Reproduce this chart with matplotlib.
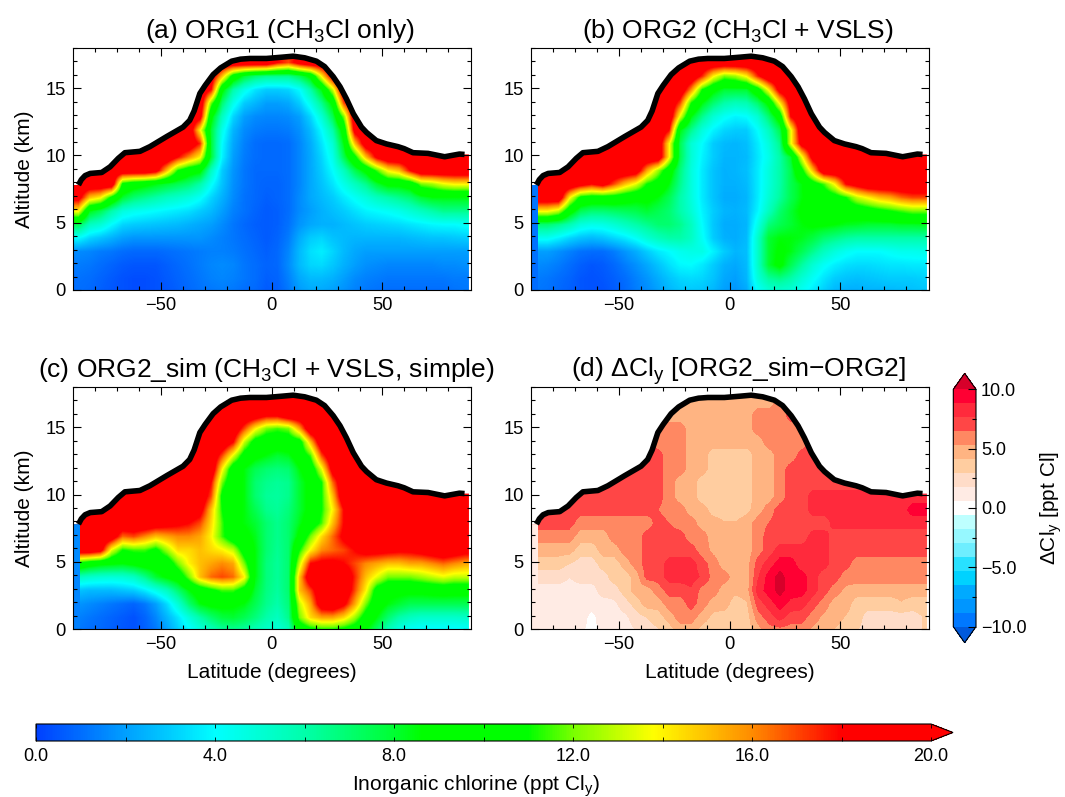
"""
plot.py  -  zonal mean inorganic chlorine cross sections, four panels + two colour bars.
Saves the figure as out.png
"""

import numpy as np
import matplotlib
matplotlib.use("Agg")
import matplotlib.pyplot as plt
from matplotlib.cm import ScalarMappable
from matplotlib.colors import BoundaryNorm, LinearSegmentedColormap, ListedColormap, Normalize
from matplotlib.patches import Polygon
from matplotlib.ticker import FuncFormatter

plt.rcParams["font.family"] = ["Liberation Sans", "DejaVu Sans"]
plt.rcParams["mathtext.fontset"] = "custom"
plt.rcParams["mathtext.rm"] = "Liberation Sans"
plt.rcParams["mathtext.default"] = "regular"

# ── Data ──────────────────────────────────────────────────────────────────────

# tropopause line, same in all panels
TROP_LAT = [-87.3, -86, -84.3, -82, -76.8, -73, -69.3, -66.3, -59.5, -55, -47.4, -40, -37, -35, -34, -32.4, -30,
            -26.4, -23, -18, -14, -9.8, -2.3, 5, 9.8, 15, 20.3, 24, 27.9, 31, 33.9, 37, 40.7, 43, 47.4, 52, 57.2,
            60, 64, 70.8, 78.3, 85, 87.3]
TROP_ALT = [7.8, 8.2, 8.5, 8.66, 8.73, 9.15, 9.78, 10.2, 10.3, 10.65, 11.4, 12.1, 12.6, 13.3, 13.8, 14.6, 15.2,
            16.0, 16.5, 17.0, 17.15, 17.2, 17.2, 17.3, 17.37, 17.25, 17.0, 16.6, 15.85, 15.1, 14.2, 13.1, 12.1,
            11.7, 11.1, 10.85, 10.65, 10.5, 10.2, 10.15, 9.9, 10.1, 10.07]

# fields: rows from 16.85 km down to -0.15 km (1 km apart), columns from -87.5 to 87.5 deg (5 deg apart)
ORG1 = [
    [20, 20, 20, 20, 20, 20, 20, 20, 20, 20, 20, 20, 20, 20, 20, 20, 20, 20, 18, 17, 19, 20, 20, 20, 20, 20, 20, 20, 20, 20, 20, 20, 20, 20, 20, 20],
    [20, 20, 20, 20, 20, 20, 20, 20, 20, 20, 20, 20, 19.5, 15, 10, 8, 7, 6.5, 6.5, 6.5, 7.5, 9, 14, 19, 20, 20, 20, 20, 20, 20, 20, 20, 20, 20, 20, 20],
    [20, 20, 20, 20, 20, 20, 20, 20, 20, 20, 20, 20, 18, 9, 6, 4.5, 3.5, 3, 3, 3.2, 4, 6, 8.5, 13, 20, 20, 20, 20, 20, 20, 20, 20, 20, 20, 20, 20],
    [20, 20, 20, 20, 20, 20, 20, 20, 20, 20, 20, 20, 12, 7, 4.5, 3, 2.5, 2, 2, 2.2, 3, 4.5, 6.5, 9, 17, 20, 20, 20, 20, 20, 20, 20, 20, 20, 20, 20],
    [20, 20, 20, 20, 20, 20, 20, 20, 20, 20, 20, 19, 9, 5.5, 3.2, 2, 1.6, 1.5, 1.5, 1.6, 2, 3.2, 5, 7.5, 12, 20, 20, 20, 20, 20, 20, 20, 20, 20, 20, 20],
    [20, 20, 20, 20, 20, 20, 20, 20, 20, 20, 20, 14, 8, 4.5, 2.5, 1.6, 1.3, 1.2, 1.2, 1.3, 1.7, 2.6, 4, 6, 9.5, 19, 20, 20, 20, 20, 20, 20, 20, 20, 20, 20],
    [20, 20, 20, 20, 20, 20, 20, 20, 20, 20, 20, 17.5, 8, 4, 2.2, 1.4, 1, 0.9, 0.9, 1, 1.5, 2.3, 3.5, 5, 8.5, 15, 19.5, 20, 20, 20, 20, 20, 20, 20, 20, 20],
    [20, 20, 20, 20, 20, 20, 20, 20, 20, 18, 16, 14, 8, 3.8, 2, 1.3, 1, 0.9, 0.9, 1, 1.5, 2.2, 3.2, 4.5, 7.5, 10.5, 15, 18.5, 20, 20, 20, 20, 20, 20, 20, 20],
    [20, 20, 20, 20, 20, 20, 20, 19, 15, 11, 9.5, 9, 5.5, 3, 1.8, 1.2, 0.9, 0.9, 0.9, 1, 1.5, 2.2, 3, 4, 5.5, 7.5, 9, 11.5, 14, 15, 18, 20, 20, 20, 20, 20],
    [20, 20, 20, 20, 10.5, 9.5, 9, 8.5, 8, 7.5, 7, 6, 4.2, 2.8, 1.7, 1.2, 0.9, 0.8, 0.8, 1, 1.5, 2.2, 2.8, 3.5, 4.5, 5.5, 6.5, 8, 9, 9, 9.5, 12, 12.5, 13.5, 14, 14],
    [19, 15, 14, 10.5, 8, 7, 6.5, 6, 5.5, 5.2, 4.8, 4.2, 3.2, 2.4, 1.6, 1.1, 0.9, 0.7, 0.8, 1, 1.6, 2.2, 2.6, 3, 3.6, 4.2, 4.8, 5.5, 6, 6.5, 7, 8, 8.5, 8.5, 8.5, 8.5],
    [14, 8.5, 7.5, 6, 4.8, 4.4, 4.2, 4, 3.8, 3.6, 3.4, 3, 2.6, 2, 1.4, 1.1, 0.8, 0.6, 0.7, 1, 1.6, 2, 2.4, 2.7, 3, 3.4, 3.8, 4, 4.2, 4.5, 5, 5.5, 6, 6.5, 6.5, 6.5],
    [7.5, 5.5, 5, 4, 3.2, 3, 2.9, 2.8, 2.7, 2.6, 2.4, 2.2, 2, 1.6, 1.2, 0.9, 0.7, 0.6, 0.7, 1.1, 1.8, 2.2, 2.4, 2.4, 2.6, 2.8, 3, 3.1, 3.2, 3.3, 3.5, 3.7, 3.9, 4, 4, 4.2],
    [4, 3.2, 2.8, 2.4, 2, 1.8, 1.8, 1.8, 1.8, 1.8, 1.8, 1.8, 1.6, 1.4, 1.2, 1, 0.8, 0.6, 0.8, 1.3, 2.3, 3, 3.2, 2.8, 2.6, 2.5, 2.5, 2.5, 2.5, 2.5, 2.6, 2.7, 2.8, 2.8, 2.9, 3],
    [1.6, 1.5, 1.3, 1.2, 1, 0.9, 0.9, 0.9, 1, 1.1, 1.2, 1.3, 1.4, 1.4, 1.3, 1.1, 0.9, 0.7, 0.9, 1.5, 2.6, 3.4, 3.7, 3.2, 2.6, 2.2, 2, 2, 2, 2, 2, 2, 2, 2, 2, 2],
    [1.3, 1.2, 1, 0.8, 0.6, 0.5, 0.5, 0.5, 0.7, 0.9, 1.1, 1.3, 1.5, 1.6, 1.5, 1.2, 1, 0.8, 0.9, 1.6, 2.6, 3.2, 3.3, 2.9, 2.4, 2, 1.7, 1.6, 1.5, 1.5, 1.5, 1.5, 1.5, 1.6, 1.6, 1.7],
    [1.1, 1, 0.8, 0.6, 0.4, 0.3, 0.3, 0.4, 0.6, 0.8, 1, 1.2, 1.4, 1.5, 1.4, 1.2, 1, 0.7, 0.8, 1.4, 2.2, 2.6, 2.6, 2.4, 2, 1.6, 1.4, 1.3, 1.2, 1.2, 1.2, 1.2, 1.2, 1.2, 1.3, 1.3],
    [1, 0.9, 0.7, 0.5, 0.4, 0.3, 0.3, 0.4, 0.5, 0.7, 0.9, 1.1, 1.2, 1.3, 1.2, 1, 0.9, 0.6, 0.7, 1.2, 1.9, 2.2, 2.2, 2, 1.7, 1.4, 1.2, 1.1, 1, 1, 1, 1, 1, 1, 1.1, 1.2],
]

ORG2 = [
    [20, 20, 20, 20, 20, 20, 20, 20, 20, 20, 20, 20, 20, 20, 20, 20, 20, 20, 20, 20, 20, 20, 20, 20, 20, 20, 20, 20, 20, 20, 20, 20, 20, 20, 20, 20],
    [20, 20, 20, 20, 20, 20, 20, 20, 20, 20, 20, 20, 20, 20, 20, 17.5, 14, 12, 12.5, 14, 17.5, 20, 20, 20, 20, 20, 20, 20, 20, 20, 20, 20, 20, 20, 20, 20],
    [20, 20, 20, 20, 20, 20, 20, 20, 20, 20, 20, 20, 20, 20, 16, 11, 9, 8, 8, 8, 10, 14, 19, 20, 20, 20, 20, 20, 20, 20, 20, 20, 20, 20, 20, 20],
    [20, 20, 20, 20, 20, 20, 20, 20, 20, 20, 20, 20, 20, 17, 11, 8.5, 7, 6, 5.6, 5.8, 7, 9, 14, 19, 20, 20, 20, 20, 20, 20, 20, 20, 20, 20, 20, 20],
    [20, 20, 20, 20, 20, 20, 20, 20, 20, 20, 20, 20, 20, 13.5, 8.5, 6.5, 5, 4.2, 3.8, 4, 5, 7, 9.5, 18, 20, 20, 20, 20, 20, 20, 20, 20, 20, 20, 20, 20],
    [20, 20, 20, 20, 20, 20, 20, 20, 20, 20, 20, 20, 18, 8.5, 6.5, 4.8, 3.8, 3.2, 3, 3, 4, 5.5, 7.5, 13.5, 20, 20, 20, 20, 20, 20, 20, 20, 20, 20, 20, 20],
    [20, 20, 20, 20, 20, 20, 20, 20, 20, 20, 20, 20, 14, 7.5, 5, 4, 3, 2.6, 2.5, 2.7, 3.6, 4.8, 6.5, 13.5, 19, 20, 20, 20, 20, 20, 20, 20, 20, 20, 20, 20],
    [20, 20, 20, 20, 20, 20, 20, 20, 20, 20, 20, 20, 14, 7.5, 5, 3.8, 3, 2.5, 2.5, 2.6, 3.5, 4.5, 6, 8, 13.5, 19, 20, 20, 20, 20, 20, 20, 20, 20, 20, 20],
    [20, 20, 20, 20, 20, 20, 20, 20, 20, 19.5, 15.5, 12.5, 9.5, 6.8, 4.8, 3.6, 2.8, 2.4, 2.5, 2.7, 3.6, 4.8, 6, 7.5, 10.5, 15, 20, 20, 20, 20, 20, 20, 20, 20, 20, 20],
    [20, 20, 20, 20, 19, 18, 19, 17, 15, 13.5, 11, 10, 8.5, 6.5, 4.8, 3.6, 2.8, 2.4, 2.4, 2.6, 3.6, 4.8, 6, 7.5, 8.5, 10, 11.5, 14, 18, 19, 20, 20, 20, 20, 20, 20],
    [20, 20, 20, 14, 10.5, 10, 10, 10, 9.5, 9, 9, 8.5, 7.5, 6, 4.8, 3.6, 2.8, 2.3, 2.3, 2.5, 3.6, 5, 6.2, 7.5, 8.5, 9, 9.5, 10, 11, 13, 14, 15, 15.5, 16.5, 17, 17],
    [14, 14, 13, 9.5, 7.5, 7, 7, 7.2, 7.4, 7.6, 8, 7.5, 7, 6, 5, 3.8, 3, 2.5, 2.4, 2.6, 3.8, 5.5, 7, 8, 8.8, 9.5, 9.5, 9.5, 9.5, 9.5, 10, 10.5, 11, 11.5, 12, 12],
    [7, 7, 6.5, 5.8, 4.8, 4.5, 4.6, 5, 5.5, 6, 6.5, 7, 7, 6.5, 5.5, 4, 2.9, 2.3, 2.3, 2.5, 4.5, 6.8, 7.5, 8, 8.5, 8.8, 8.8, 8.6, 8.3, 8.2, 8, 8, 8, 8.2, 8.2, 8.3],
    [4.3, 4.3, 3.8, 3.2, 2.8, 2.6, 2.8, 3.2, 3.6, 4.2, 5, 5.6, 6, 6, 5.4, 4.2, 3, 2.4, 2.3, 2.6, 5.2, 8, 8.5, 8.5, 8.3, 7.8, 7, 6.6, 6.2, 6, 6, 6, 6, 6, 6, 6],
    [2, 2, 1.7, 1.4, 1.1, 1, 1, 1.3, 1.8, 2.3, 3, 3.6, 4, 4.4, 4.6, 4.6, 3.8, 3, 2.5, 2.7, 5.2, 8, 8.8, 8.4, 7.5, 6.5, 5.5, 4.8, 4.3, 4, 4, 4, 4.2, 4.4, 4.4, 4.5],
    [1.6, 1.5, 1.3, 1, 0.7, 0.5, 0.6, 0.9, 1.3, 1.7, 2.2, 2.8, 3.4, 3.9, 4, 3.6, 3, 2.4, 2.2, 2.6, 5.2, 8, 9, 7.5, 6.2, 5, 4.2, 3.7, 3.4, 3.3, 3.3, 3.4, 3.5, 3.5, 3.6, 3.6],
    [1.3, 1.2, 1, 0.8, 0.5, 0.4, 0.5, 0.7, 1, 1.4, 1.8, 2.3, 2.8, 3.2, 3.3, 3.2, 2.8, 2.2, 2, 2.5, 4.8, 6.2, 6.6, 6, 5, 4.2, 3.5, 3, 2.8, 2.7, 2.8, 2.9, 3, 3, 3, 3.1],
    [1.2, 1.1, 0.9, 0.7, 0.5, 0.4, 0.4, 0.6, 0.9, 1.3, 1.6, 2, 2.5, 2.8, 2.9, 2.8, 2.5, 2, 1.8, 2.2, 4, 4.8, 5, 4.8, 4.2, 3.6, 3, 2.5, 2.3, 2.3, 2.4, 2.4, 2.5, 2.6, 2.7, 2.8],
]

ORG2_SIM = [
    [20, 20, 20, 20, 20, 20, 20, 20, 20, 20, 20, 20, 20, 20, 20, 20, 20, 20, 20, 20, 20, 20, 20, 20, 20, 20, 20, 20, 20, 20, 20, 20, 20, 20, 20, 20],
    [20, 20, 20, 20, 20, 20, 20, 20, 20, 20, 20, 20, 20, 20, 20, 20, 19.5, 18.5, 18.5, 20, 20, 20, 20, 20, 20, 20, 20, 20, 20, 20, 20, 20, 20, 20, 20, 20],
    [20, 20, 20, 20, 20, 20, 20, 20, 20, 20, 20, 20, 20, 20, 20, 17, 14, 12, 11.5, 12, 15.5, 20, 20, 20, 20, 20, 20, 20, 20, 20, 20, 20, 20, 20, 20, 20],
    [20, 20, 20, 20, 20, 20, 20, 20, 20, 20, 20, 20, 20, 20, 18, 13, 10, 9.5, 9.5, 9.5, 10, 15, 20, 20, 20, 20, 20, 20, 20, 20, 20, 20, 20, 20, 20, 20],
    [20, 20, 20, 20, 20, 20, 20, 20, 20, 20, 20, 20, 20, 17, 13.5, 10, 9, 8.5, 8, 8.3, 9.5, 11.5, 17, 20, 20, 20, 20, 20, 20, 20, 20, 20, 20, 20, 20, 20],
    [20, 20, 20, 20, 20, 20, 20, 20, 20, 20, 20, 20, 20, 14, 9.5, 8.5, 7.5, 7, 6.8, 7, 8.5, 9.5, 13.5, 19, 20, 20, 20, 20, 20, 20, 20, 20, 20, 20, 20, 20],
    [20, 20, 20, 20, 20, 20, 20, 20, 20, 20, 20, 20, 18, 12, 9, 8.5, 7, 6.5, 6.3, 6.5, 8, 9, 11, 16.5, 20, 20, 20, 20, 20, 20, 20, 20, 20, 20, 20, 20],
    [20, 20, 20, 20, 20, 20, 20, 20, 20, 20, 20, 20, 17, 10.5, 9, 8.5, 7, 6.3, 6.2, 6.5, 8, 9, 11, 15, 20, 20, 20, 20, 20, 20, 20, 20, 20, 20, 20, 20],
    [20, 20, 20, 20, 20, 20, 20, 20, 20, 20, 20, 19, 15, 11, 9, 8.5, 7.5, 6.5, 6.3, 6.8, 8, 9, 11, 14, 18, 20, 20, 20, 20, 20, 20, 20, 20, 20, 20, 20],
    [20, 20, 20, 20, 20, 20, 20, 19.5, 19, 18.5, 18, 17, 14.5, 11.5, 9, 8.5, 8, 7, 6.5, 7, 8.3, 9.5, 11.5, 15, 18, 19.5, 20, 20, 20, 20, 20, 20, 20, 20, 20, 20],
    [20, 20, 20, 19.5, 16.5, 17, 16, 15, 15.5, 16, 16, 15.5, 14, 11.5, 9.5, 9, 8.3, 7, 6.5, 7, 9, 12, 14.5, 16.5, 18.5, 19.5, 20, 20, 20, 20, 20, 20, 20, 20, 20, 20],
    [20, 20, 19, 13.5, 11, 11.5, 11.5, 10.5, 12.5, 14.5, 14.5, 15, 14.5, 14, 13, 10, 8.5, 7, 6.4, 7, 11, 14, 16, 16.5, 17, 18, 19, 19, 18.8, 18.5, 18.5, 19, 19.5, 20, 19.5, 19],
    [10.5, 9.5, 9, 8.8, 8.6, 9, 9.5, 9.5, 9.5, 12, 14, 15, 15.5, 16, 15.5, 12, 8.5, 6.8, 6.3, 7, 13, 18, 18.5, 18.5, 18, 17, 16, 15.5, 15, 15, 15.5, 15.5, 16, 16.5, 16, 15.5],
    [5.5, 5.2, 5, 4.9, 5, 5.4, 6.5, 8, 8.8, 9.5, 12, 15, 16.5, 17, 16.5, 14, 8.5, 6.8, 6.3, 7, 15, 20, 20, 20, 20, 17.5, 15, 13.5, 12, 12, 12, 12.5, 13, 13.5, 13, 13],
    [2.8, 2.6, 2.6, 2.6, 2.8, 3, 3.6, 4.5, 5.5, 7, 8.5, 9.5, 10.5, 11.5, 11.5, 10, 8, 6.7, 6.2, 7, 15, 17, 20, 20, 20, 17, 14, 10, 9, 9, 9, 9, 9.2, 9.3, 9.2, 9.2],
    [1.8, 1.6, 1.4, 1.2, 1, 0.8, 1.2, 2, 3.3, 5, 7, 8.5, 9, 9, 8.8, 8.5, 7.5, 6.5, 6, 6.8, 13, 15.5, 19.5, 20, 18.5, 15.5, 12, 9.5, 8.5, 8, 7.5, 7.5, 7.5, 7.5, 7.5, 7.5],
    [1.4, 1.2, 1, 0.8, 0.6, 0.4, 0.8, 1.5, 2.5, 3.5, 4.8, 6, 7, 7.8, 8, 7.5, 6.8, 6, 5.5, 6.5, 12, 14.5, 15.5, 15.5, 14.5, 12.5, 10, 8.5, 7, 6, 5.5, 5.2, 5.2, 5.2, 5.2, 5.3],
    [1.2, 1, 0.9, 0.7, 0.5, 0.4, 0.7, 1.2, 2, 3, 3.8, 4.6, 5.4, 6, 6.2, 6, 5.6, 5.2, 4.8, 5.5, 9, 10, 10.5, 10.5, 10, 9.5, 8.5, 7, 5.5, 4.5, 4, 3.8, 3.8, 3.8, 3.8, 3.9],
]

DELTA = [
    [5.9, 5.9, 5.9, 5.9, 5.9, 5.9, 5.9, 5.9, 5.9, 5.9, 5.9, 4.7, 4.7, 4.7, 4.7, 4.7, 4.7, 4.7, 4.7, 4.7, 4.7, 4.7, 5.9, 5.9, 5.9, 5.9, 5.9, 5.9, 5.9, 5.9, 5.9, 5.9, 5.9, 5.9, 5.9, 5.9],
    [5.9, 5.9, 5.9, 5.9, 5.9, 5.9, 5.9, 5.9, 5.9, 5.9, 5.9, 4.7, 4.7, 4.7, 4.7, 4.7, 4.7, 4.7, 4.7, 4.7, 5.9, 5.9, 5.9, 7, 7, 7, 7, 7, 7, 7, 7, 7, 7, 7, 7, 7],
    [5.9, 5.9, 5.9, 5.9, 5.9, 5.9, 5.9, 5.9, 5.9, 5.9, 5.9, 5.9, 5.9, 5.9, 4.7, 4.7, 4.7, 4.7, 4.7, 4.7, 5.9, 5.9, 5.9, 5.9, 5.9, 7, 7, 7, 7, 7, 7, 7, 7, 7, 7, 7],
    [7, 7, 7, 7, 7, 7, 7, 7, 7, 7, 7, 5.9, 5.9, 5.9, 4.7, 4.7, 4.7, 4.7, 4.7, 4.7, 4.7, 5.9, 5.9, 5.9, 5.9, 7, 7, 7, 7, 7, 7, 7, 7, 7, 7, 7],
    [7, 7, 7, 7, 7, 7, 7, 7, 7, 7, 7, 7, 5.9, 5.9, 4.7, 4.7, 3.5, 3.5, 3.5, 3.5, 4.7, 4.7, 5.9, 5.9, 7, 7, 7, 7, 7, 7, 7, 7, 7, 7, 7, 7],
    [7, 7, 7, 7, 7, 7, 7, 7, 7, 7, 7, 7, 5.9, 5.9, 4.7, 4.7, 3.5, 3.5, 3.5, 3.5, 4.7, 4.7, 5.9, 7, 7, 7, 7, 7, 7, 7, 7, 7, 7, 7, 7, 7],
    [7, 7, 7, 7, 7, 7, 7, 7, 7, 7, 7, 7, 5.9, 4.7, 4.7, 3.5, 3.5, 3.5, 3.5, 3.5, 4.7, 4.7, 5.9, 7, 7, 7, 7, 7, 7, 7, 7, 7, 7, 7, 7, 7],
    [7, 7, 7, 7, 7, 7, 7, 7, 7, 7, 7, 7, 5.9, 4.7, 4.7, 3.5, 3.5, 3.5, 3.5, 3.5, 4.7, 4.7, 5.9, 7, 7, 8.2, 8.2, 8.2, 8.2, 8.2, 8.2, 8.2, 8.2, 8.2, 8.2, 8.2],
    [7, 7, 7, 7, 7, 7, 7, 7, 7, 7, 7, 6.5, 5.9, 5.9, 4.7, 4.7, 3.6, 3.5, 3.5, 3.8, 4.7, 5.9, 7, 7, 7, 8.2, 8.2, 8.2, 8.2, 8.2, 8.2, 8.2, 8.2, 8.2, 9.4, 9.4],
    [7, 7, 7, 7, 5.9, 5.9, 5.9, 5.9, 5.9, 5.9, 5.9, 7, 6.5, 5.9, 5.9, 4.7, 4.7, 4.2, 4.2, 4.7, 5.9, 6.5, 7, 7, 7, 7, 7, 8.2, 8.2, 8.2, 8.2, 8.2, 8.2, 8.2, 8.2, 8.2],
    [5.9, 5.9, 5.9, 5.9, 4.7, 4.7, 4.7, 5.9, 5.9, 5.9, 7, 7, 7, 7, 5.9, 5.9, 4.7, 4.7, 4.7, 4.7, 5.9, 7, 7, 7, 7, 8.2, 8.2, 7, 7, 7, 7, 7, 7, 7, 7, 7],
    [4.7, 4.7, 4.7, 4.7, 3.5, 3.5, 4.7, 4.7, 5.9, 5.9, 7, 7, 7, 7, 7, 5.9, 5, 4.7, 4.7, 4.7, 5.9, 7, 8.2, 8.2, 8.2, 8.2, 8.2, 7, 7, 7, 7, 7, 7, 7, 7, 7],
    [3.5, 3.5, 3.5, 3, 2.4, 2.4, 3.5, 3.5, 4.7, 5.9, 7, 7, 8.2, 8.2, 8.2, 7, 5.9, 4.7, 4.7, 4.7, 7, 8.2, 9.4, 9.4, 8.2, 8.2, 8.2, 7, 7, 5.9, 5.9, 5.9, 5.9, 5.9, 5.9, 5.9],
    [2.4, 2.4, 2.4, 1.8, 2.4, 2.4, 2.4, 3.5, 3.5, 4.7, 7, 7, 8.2, 8.2, 8.2, 7.5, 6, 5.9, 4.7, 4.7, 7.5, 9.4, 10.5, 9.4, 9.4, 8.2, 7, 7, 5.9, 5.9, 5.9, 5.9, 5.9, 5.9, 5.9, 5.9],
    [1.2, 1.2, 1.2, 1.2, 1.2, 1.2, 2.4, 2.4, 3.5, 4.7, 4.7, 5.9, 7, 7, 7.5, 6, 5.9, 4.7, 4.5, 4.7, 8.2, 9.4, 10.5, 9.4, 9.4, 8.2, 7, 5.9, 5, 4.7, 4.7, 4.7, 4.7, 4.7, 4.7, 4.7],
    [1.2, 1.2, 1.2, 1.2, 1.2, 1.2, 1.2, 1.5, 2.4, 3.5, 4.7, 4.7, 5.9, 5.9, 7, 5.9, 4.7, 4.7, 3.5, 4, 7, 8.2, 9.4, 8.5, 8.2, 7, 5.9, 4.7, 4.7, 3.5, 3.5, 3.5, 3.5, 4, 3.5, 3.5],
    [1.2, 1.2, 1.2, 1.2, 1.2, 0.2, 1.2, 1.2, 1.5, 2.4, 3, 3.5, 4.7, 5.9, 5.9, 4.7, 3.8, 3.5, 3.5, 3.5, 5.9, 7, 8.2, 7, 7, 5.9, 5, 4.7, 4, 3.5, 2.4, 2.4, 2.4, 2.4, 2.4, 3],
    [1.2, 1.2, 1.2, 1.2, 0.8, 0.2, 1, 1.2, 1.2, 1.8, 2.4, 2.8, 3.5, 4.7, 4.7, 3.6, 3.5, 3.5, 3.5, 3.5, 4.7, 5.9, 5.9, 5.9, 5.9, 5, 4.7, 4, 3.5, 3, 2.4, 2, 2, 2, 2.4, 3],
]

# odd column at the pole edge of panels b, c, d (top to bottom, up to the tropopause)
STRIP_B = [1.2, 1.2, 1.2, 1.2, 1.1, 1.1, 1.0, 1.0]
STRIP_C = [1.6, 1.6, 1.6, 1.6, 1.5, 1.5, 1.4, 1.4]
STRIP_D = [1.2, 1.2, 1.2, 1.2, 1.2, 1.2, 1.2, 1.2]

TITLES = [r"(a) ORG1 (CH$_3$Cl only)", r"(b) ORG2 (CH$_3$Cl + VSLS)",
          r"(c) ORG2_sim (CH$_3$Cl + VSLS, simple)", "(d) \u0394Cl$_y$ [ORG2_sim\u2212ORG2]"]

# continuous colour table: value, rgb
CL_VALUES = [0, 1, 2, 3, 4, 6, 8, 8.6, 11, 12, 13.8, 16, 18, 20]
CL_COLORS = [(0, 64, 255), (0, 110, 255), (0, 160, 255), (0, 205, 255), (0, 255, 255), (0, 255, 170),
             (0, 255, 50), (0, 255, 0), (0, 255, 0), (120, 255, 0), (255, 255, 0), (255, 140, 0),
             (255, 0, 0), (255, 0, 0)]

# difference colour table, bottom to top
DIFF_COLORS = ["#0078ff", "#0096ff", "#00aaff", "#00d2ff", "#28e1ff", "#6eeeff", "#96f8ff", "#beffff",
               "#ffffff", "#ffebe4", "#ffdcc8", "#ffcda0", "#ffb482", "#ff8862", "#ff4646", "#ff2a3c", "#ff0033"]

# ── Colour scales ─────────────────────────────────────────────────────────────

cl_cmap = LinearSegmentedColormap.from_list(
    "cl", [(v / 20, tuple(c / 255 for c in rgb)) for v, rgb in zip(CL_VALUES, CL_COLORS)], N=512)
cl_cmap.set_over("#ff0000")
cl_norm = Normalize(0, 20)

diff_cmap = ListedColormap(DIFF_COLORS)
diff_cmap.set_over("#d7002a")
diff_cmap.set_under("#005adc")
diff_norm = BoundaryNorm(np.linspace(-10, 10, 18), 17)


# ── Helper functions ──────────────────────────────────────────────────────────

def draw_panel(rect, field, cmap, norm, title, title_x, strip=None, left_label=False, bottom_label=False):
    """Draws one cross section, clipped under the tropopause line."""
    ax = fig.add_axes([rect[0] / W, 1 - rect[3] / H, (rect[1] - rect[0]) / W, (rect[3] - rect[2]) / H])

    outline = Polygon(
        [(-89.6, 0), (-89.6, TROP_ALT[0])] + list(zip(TROP_LAT, TROP_ALT)) + [(89.3, TROP_ALT[-1]), (89.3, 0)],
        transform=ax.transData, closed=True)

    im = ax.imshow(np.array(field, dtype=float), cmap=cmap, norm=norm, origin="upper", aspect="auto",
                   extent=[-90, 90, -0.65, 17.35], interpolation="bilinear", interpolation_stage="data")
    im.set_clip_path(outline)

    if strip is not None:
        edge = ax.imshow(np.array(strip, dtype=float).reshape(-1, 1), cmap=cmap, norm=norm, origin="upper",
                         aspect="auto", extent=[-89.6, -86.7, 0, 8], interpolation="nearest")
        edge.set_clip_path(outline)

    ax.plot(TROP_LAT, TROP_ALT, color="black", lw=4, solid_capstyle="butt", solid_joinstyle="round")

    ax.set_xlim(-90, 90)
    ax.set_ylim(0, 18)
    ax.set_xticks([-50, 0, 50])
    ax.set_xticks(np.arange(-80, 81, 10), minor=True)
    ax.set_yticks([0, 5, 10, 15])
    ax.set_yticks(np.arange(0, 19, 1), minor=True)
    ax.tick_params(which="both", direction="in", top=True, right=True, width=0.8, labelsize=13.2)
    ax.tick_params(which="major", length=6, pad=5)
    ax.tick_params(which="minor", length=3)

    ax.set_title(title, x=title_x, fontsize=19, pad=7)
    if left_label:
        ax.set_ylabel("Altitude (km)", fontsize=15, labelpad=8)
    if bottom_label:
        ax.set_xlabel("Latitude (degrees)", fontsize=15, labelpad=7)
    return ax


# ── Figure ────────────────────────────────────────────────────────────────────

W, H = 1065, 797
fig = plt.figure(figsize=(W / 100, H / 100), dpi=100)

# panel rectangles in pixels: left, right, top, bottom
draw_panel((72.5, 470.5, 47.7, 290), ORG1, cl_cmap, cl_norm, TITLES[0], 0.52, left_label=True)
draw_panel((530.5, 928.5, 47.7, 290), ORG2, cl_cmap, cl_norm, TITLES[1], 0.52, strip=STRIP_B)
draw_panel((72.5, 470.5, 386.7, 629.3), ORG2_SIM, cl_cmap, cl_norm, TITLES[2], 0.487, strip=STRIP_C,
           left_label=True, bottom_label=True)
draw_panel((530.5, 928.5, 386.7, 629.3), DELTA, diff_cmap, diff_norm, TITLES[3], 0.522, strip=STRIP_D,
           bottom_label=True)

# horizontal colour bar
cax = fig.add_axes([36 / W, 1 - 741 / H, (953 - 36) / W, 17 / H])
cbar = fig.colorbar(ScalarMappable(norm=cl_norm, cmap=cl_cmap), cax=cax, orientation="horizontal",
                    extend="max", extendfrac=22 / 895, ticks=[0, 4, 8, 12, 16, 20])
cbar.set_ticks([2, 6, 10, 14, 18], minor=True)
cbar.ax.xaxis.set_major_formatter(FuncFormatter(lambda v, _: f"{v:.1f}"))
cbar.ax.tick_params(which="both", direction="in", top=True, bottom=True, width=0.6, length=3, labelsize=13, pad=5)
fig.text(476 / W, 1 - 786 / H, "Inorganic chlorine (ppt Cl$_y$)", fontsize=15, ha="center", va="center")

# vertical colour bar
dax = fig.add_axes([953.3 / W, 1 - 642.7 / H, (976 - 953.3) / W, (642.7 - 373.3) / H])
dbar = fig.colorbar(ScalarMappable(norm=diff_norm, cmap=diff_cmap), cax=dax, orientation="vertical",
                    extend="both", extendfrac=16 / 237, spacing="uniform", ticks=[-10, -5, 0, 5, 10])
dbar.set_ticks([-7.5, -2.5, 2.5, 7.5], minor=True)
dbar.ax.yaxis.set_major_formatter(FuncFormatter(lambda v, _: f"{v:.1f}".replace("-", "\u2212")))
dbar.ax.tick_params(which="both", direction="in", right=True, width=0.8, labelsize=13, pad=3.5)
dbar.ax.tick_params(which="major", length=6)
dbar.ax.tick_params(which="minor", length=3)
dbar.set_label("\u0394Cl$_y$ [ppt Cl]", fontsize=15, labelpad=9)

fig.savefig("out.png", dpi=100)
